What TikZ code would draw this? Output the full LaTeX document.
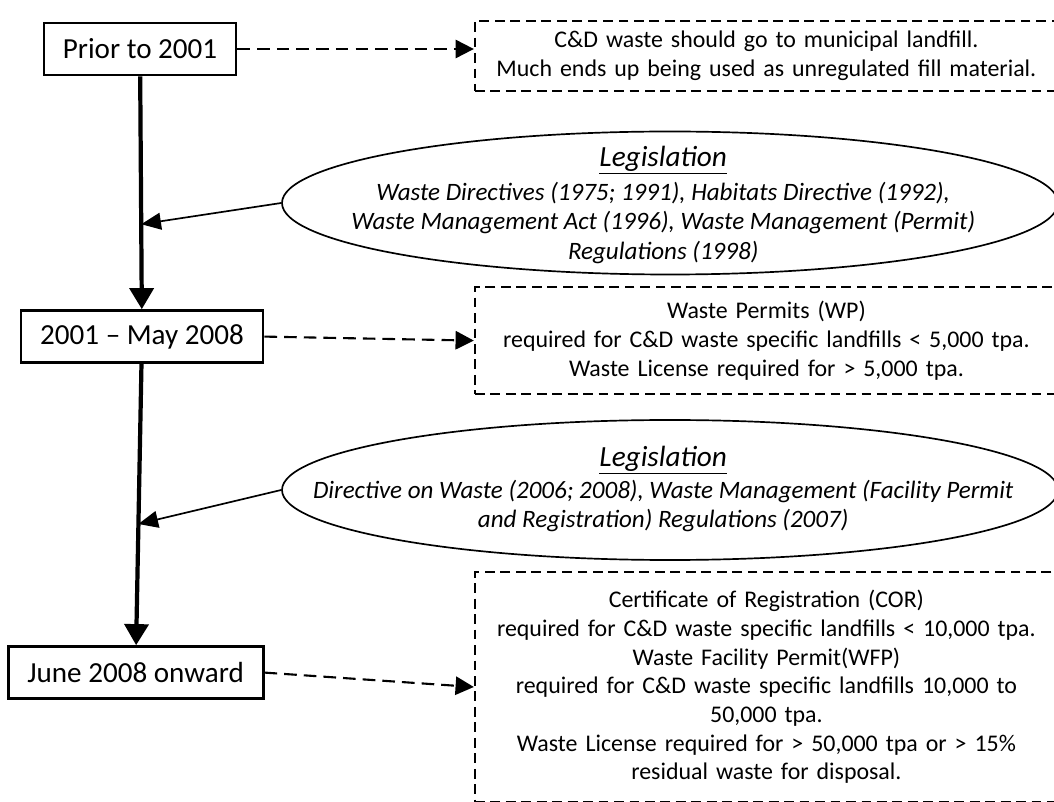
\documentclass[tikz,border=0pt]{standalone}
\usepackage{fontspec}
\setmainfont{Carlito}
\usetikzlibrary{arrows.meta,calc,shapes.geometric}

\tikzset{
	period/.style={draw, line width=2pt, minimum height=1.3cm, inner sep=0pt, font=\fontsize{20.7}{24}\selectfont},
	note/.style={draw, line width=1.5pt, dash pattern=on 7pt off 4pt, minimum width=14.575cm, text width=14cm, align=center, inner sep=0pt, font=\fontsize{17}{20.4}\selectfont},
	law/.style={draw, ellipse, line width=1.2pt, minimum width=19.4cm, inner sep=0pt},
	lawtext/.style={inner sep=0pt, align=center, font=\fontsize{17.8}{21}\selectfont\itshape},
	timeline/.style={line width=3pt, -{Triangle[length=15pt, width=17pt]}},
	feed/.style={line width=1.2pt, -{Triangle[length=14pt, width=12pt]}},
	leads/.style={line width=1.5pt, dash pattern=on 9pt off 5pt, -{Triangle[length=13pt, width=13pt]}}
}
\newcommand{\lawhead}{{\fontsize{20.8}{24}\selectfont\underline{Legislation}}}

\begin{document}
\begin{tikzpicture}
			%%%%% START %%%%%
			
			\useasboundingbox (0, 0) rectangle (26.35, 20.025);
			\clip (0, 0) rectangle (26.35, 20.025);
			
			\node[period, minimum width=4.8cm] (p1) at (3.5, 18.8) {Prior to 2001};
			\node[period, minimum width=6.05cm] (p2) at (3.55, 11.61) {2001 -- May 2008};
			\node[period, minimum width=6.375cm] (p3) at (3.39, 3.21) {June 2008 onward};
			
			\node[note, minimum height=1.75cm] (d1) at (19.16, 18.625) {C\&D waste should go to municipal landfill.\\Much ends up being used as unregulated fill material.};
			\node[note, minimum height=2.675cm] (d2) at (19.16, 11.51) {Waste Permits (WP)\\required for C\&D waste specific landfills < 5,000 tpa.\\Waste License required for > 5,000 tpa.};
			\node[note, minimum height=5.75cm] (d3) at (19.16, 2.85) {Certificate of Registration (COR)\\required for C\&D waste specific landfills < 10,000 tpa.\\Waste Facility Permit(WFP)\\required for C\&D waste specific landfills 10,000 to\\50,000 tpa.\\Waste License required for > 50,000 tpa or > 15\%\\residual waste for disposal.};
			
			\node[law, minimum height=3.575cm] (e1) at (16.75, 14.95) {};
			\node[lawtext] (t1) at (16.58, 14.9) {\lawhead\\[3pt]Waste Directives (1975; 1991), Habitats Directive (1992),\\Waste Management Act (1996), Waste Management (Permit)\\Regulations (1998)};
			\node[law, minimum height=3.5cm] (e2) at (16.75, 7.775) {};
			\node[lawtext] (t2) at (16.58, 7.8) {\lawhead\\[2pt]Directive on Waste (2006; 2008), Waste Management (Facility Permit\\and Registration) Regulations (2007)};
			
			\draw[timeline] (p1) -- (p2);
			\draw[timeline] (p2) -- (p3);
			
			\coordinate (j1) at ($(p1.south)!0.635!(p2.north)$);
			\coordinate (j2) at ($(p2.south)!0.569!(p3.north)$);
			\draw[feed] (e1.west) -- (j1);
			\draw[feed] (e2.west) -- (j2);
			
			\draw[leads] (p1.east) -- (p1.east -| d1.west);
			\draw[leads] (p2.east) -- (d2.west);
			\draw[leads] (p3.east) -- (d3.west);
			
			%%%%% END %%%%%
\end{tikzpicture}
\end{document}
